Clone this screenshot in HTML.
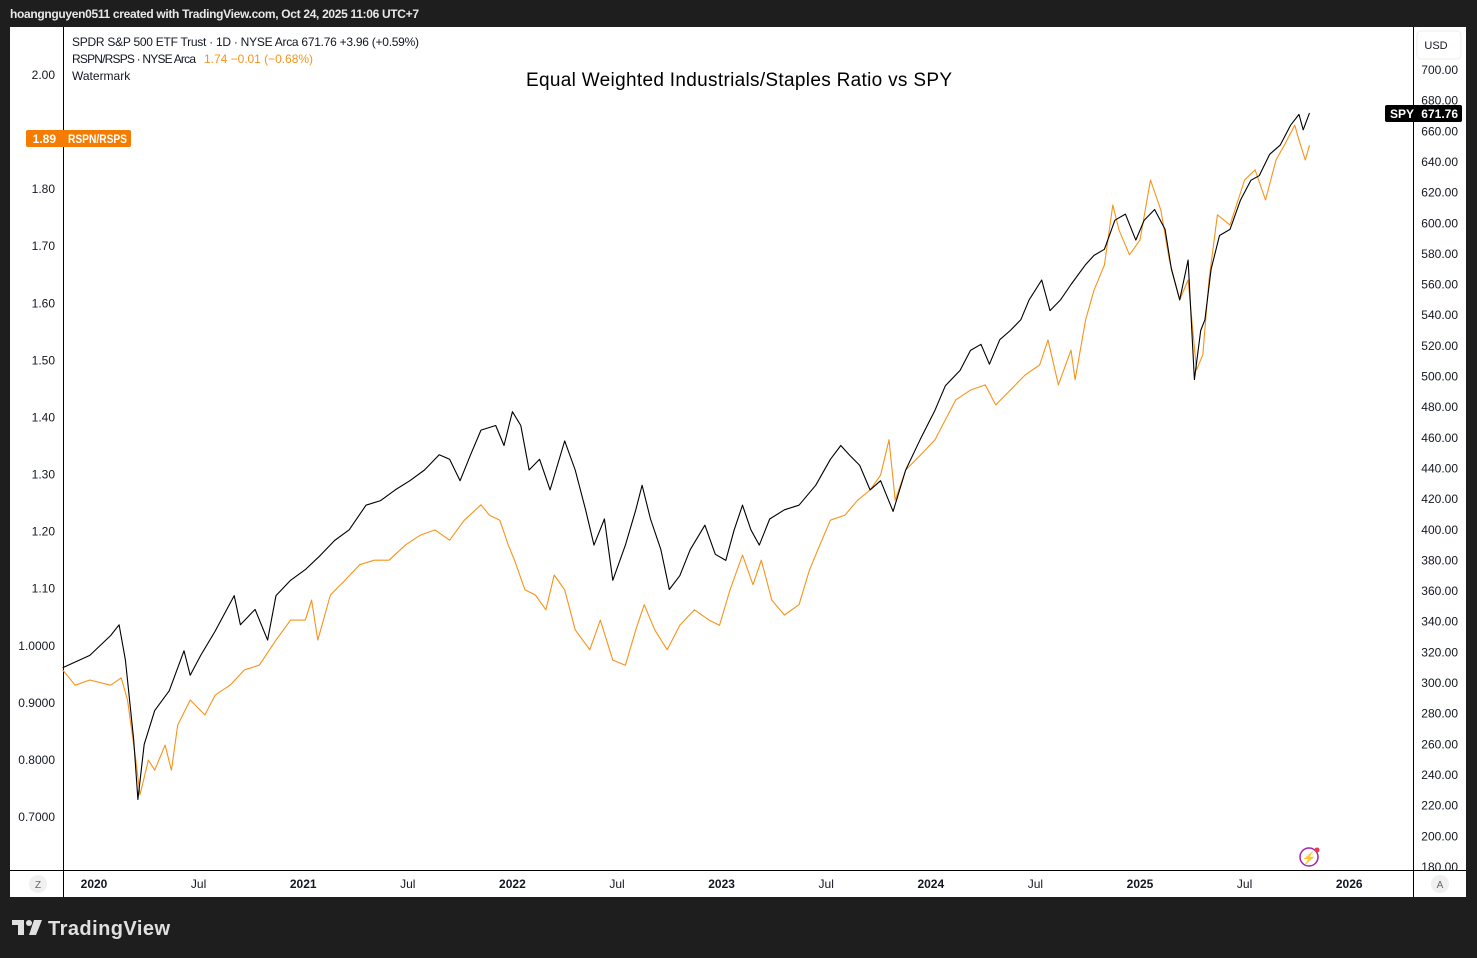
<!DOCTYPE html>
<html><head><meta charset="utf-8"><style>
body{margin:0;background:#1e1e1e;}
svg{display:block;font-family:"Liberation Sans",sans-serif;}
</style></head><body>
<svg id="c" width="1477" height="958">
<rect x="0" y="0" width="1477" height="958" fill="#1e1e1e"/>
<text x="10" y="18" fill="#e8e8e8" font-size="12" font-weight="bold" textLength="409">hoangnguyen0511 created with TradingView.com, Oct 24, 2025 11:06 UTC+7</text>
<rect x="10" y="27" width="1456" height="870" fill="#fff"/>
<line x1="63.5" y1="27" x2="63.5" y2="897" stroke="#000"/>
<line x1="1413.5" y1="27" x2="1413.5" y2="897" stroke="#000"/>
<line x1="10" y1="870.5" x2="1466" y2="870.5" stroke="#000"/>
<g id="left-ticks"></g>
<g id="right-ticks"></g>
<g id="time-ticks"></g>
<g id="series"></g>
<text x="72" y="46" font-size="12" fill="#131722" textLength="347">SPDR S&amp;P 500 ETF Trust · 1D · NYSE Arca  671.76  +3.96 (+0.59%)</text>
<text x="72" y="63" font-size="12" fill="#131722"><tspan textLength="124">RSPN/RSPS · NYSE Arca</tspan><tspan x="204" fill="#f7931a" textLength="109">1.74  −0.01 (−0.68%)</tspan></text>
<text x="72" y="80" font-size="12" fill="#131722">Watermark</text>
<text x="739" y="86" font-size="19" fill="#000" text-anchor="middle" textLength="426">Equal Weighted Industrials/Staples Ratio vs SPY</text>
<rect x="1417" y="31" width="44" height="28" rx="4" fill="#fff" stroke="#eee"/>
<text x="1436" y="49" font-size="11" fill="#131722" text-anchor="middle">USD</text>
<rect x="1385" y="105" width="77" height="17" rx="2" fill="#000"/>
<text x="1390" y="118" font-size="12" fill="#fff" font-weight="bold">SPY</text>
<text x="1458" y="118" font-size="12" fill="#fff" font-weight="bold" text-anchor="end">671.76</text>
<rect x="26" y="130" width="105" height="17" rx="2" fill="#f57c00"/>
<text x="56" y="143" font-size="12" fill="#fff" font-weight="bold" text-anchor="end">1.89</text>
<text x="68" y="143" font-size="12" fill="#fff" font-weight="bold" textLength="59" lengthAdjust="spacingAndGlyphs">RSPN/RSPS</text>
<circle cx="38" cy="884" r="9" fill="#f0f0f0"/>
<text x="38" y="888" font-size="10" fill="#666" text-anchor="middle">Z</text>
<circle cx="1440" cy="884" r="9" fill="#f0f0f0"/>
<text x="1440" y="888" font-size="10" fill="#666" text-anchor="middle">A</text>
<circle cx="1309" cy="857" r="9" fill="none" stroke="#9c27b0" stroke-width="1.5"/>
<text x="1309" y="862" font-size="12" fill="#9c27b0" text-anchor="middle">⚡</text>
<circle cx="1317" cy="850" r="2.5" fill="#f23645"/>
<g>
<rect x="12" y="920" width="12" height="5" fill="#e0e0e0"/>
<rect x="18" y="920" width="6" height="15" fill="#e0e0e0"/>
<circle cx="29" cy="923" r="3" fill="#e0e0e0"/>
<polygon points="34,920 42,920 36,935 29,935" fill="#e0e0e0"/>
</g>
<text x="48" y="935" font-size="20" font-weight="bold" fill="#e0e0e0" textLength="122">TradingView</text>
</svg>
<script>
const ratioTicks=[2.00,1.80,1.70,1.60,1.50,1.40,1.30,1.20,1.10,1.0,0.9,0.8,0.7];
const spyTicks=[700,680,660,640,620,600,580,560,540,520,500,480,460,440,420,400,380,360,340,320,300,280,260,240,220,200,180];
const timeLabels=["2020","Jul","2021","Jul","2022","Jul","2023","Jul","2024","Jul","2025","Jul","2026"];
const timeValues=[2020,2020.5,2021,2021.5,2022,2022.5,2023,2023.5,2024,2024.5,2025,2025.5,2026];
const spyDates=[2019.85,2019.98,2020.08,2020.12,2020.15,2020.19,2020.21,2020.24,2020.29,2020.36,2020.43,2020.46,2020.51,2020.58,2020.67,2020.70,2020.77,2020.83,2020.87,2020.94,2021.01,2021.08,2021.15,2021.22,2021.30,2021.37,2021.44,2021.51,2021.58,2021.65,2021.70,2021.75,2021.80,2021.85,2021.92,2021.96,2022.00,2022.04,2022.08,2022.13,2022.18,2022.25,2022.30,2022.35,2022.39,2022.44,2022.48,2022.54,2022.59,2022.62,2022.66,2022.71,2022.75,2022.80,2022.85,2022.92,2022.97,2023.02,2023.06,2023.10,2023.14,2023.18,2023.23,2023.30,2023.37,2023.45,2023.52,2023.57,2023.61,2023.66,2023.71,2023.76,2023.82,2023.88,2023.95,2024.02,2024.07,2024.14,2024.19,2024.24,2024.28,2024.33,2024.38,2024.43,2024.47,2024.53,2024.57,2024.62,2024.67,2024.74,2024.78,2024.83,2024.88,2024.93,2024.98,2025.02,2025.07,2025.12,2025.15,2025.19,2025.23,2025.26,2025.29,2025.31,2025.34,2025.38,2025.43,2025.48,2025.53,2025.57,2025.62,2025.67,2025.72,2025.76,2025.78,2025.81];
const spyValues=[310,318,331,338,315,263,224,260,282,295,321,305,318,334,357,338,348,328,357,367,374,383,393,400,416,419,426,432,439,449,446,432,449,465,468,455,477,468,439,446,426,458,439,413,390,407,367,390,413,429,407,387,361,370,387,403,384,380,400,416,400,390,407,413,416,429,446,455,449,442,426,432,412,439,459,478,494,504,517,521,508,524,530,537,550,563,543,550,560,573,579,583,602,606,589,602,609,596,570,550,576,498,530,537,570,592,596,615,628,631,645,651,664,671,661,672];
const ratioDates=[2019.85,2019.91,2019.98,2020.08,2020.13,2020.16,2020.20,2020.22,2020.26,2020.29,2020.34,2020.37,2020.40,2020.46,2020.53,2020.58,2020.65,2020.72,2020.79,2020.87,2020.94,2021.01,2021.04,2021.07,2021.13,2021.20,2021.27,2021.34,2021.41,2021.49,2021.56,2021.63,2021.70,2021.77,2021.85,2021.89,2021.94,2021.98,2022.01,2022.06,2022.11,2022.16,2022.20,2022.25,2022.30,2022.37,2022.42,2022.48,2022.54,2022.59,2022.63,2022.68,2022.74,2022.80,2022.87,2022.94,2022.99,2023.04,2023.10,2023.15,2023.19,2023.24,2023.30,2023.37,2023.42,2023.47,2023.52,2023.59,2023.65,2023.71,2023.76,2023.80,2023.83,2023.88,2023.95,2024.02,2024.07,2024.12,2024.19,2024.26,2024.31,2024.38,2024.45,2024.52,2024.56,2024.61,2024.67,2024.69,2024.74,2024.78,2024.83,2024.87,2024.90,2024.95,2025.00,2025.05,2025.10,2025.14,2025.19,2025.23,2025.27,2025.30,2025.33,2025.37,2025.43,2025.50,2025.55,2025.60,2025.65,2025.69,2025.74,2025.76,2025.79,2025.81];
const ratioValues=[0.958,0.931,0.940,0.931,0.944,0.905,0.800,0.739,0.800,0.782,0.826,0.782,0.861,0.905,0.879,0.914,0.931,0.958,0.966,1.010,1.045,1.045,1.080,1.010,1.089,1.115,1.142,1.150,1.150,1.177,1.194,1.203,1.185,1.220,1.247,1.229,1.220,1.177,1.150,1.098,1.089,1.063,1.124,1.098,1.028,0.993,1.045,0.975,0.966,1.028,1.072,1.028,0.993,1.036,1.063,1.045,1.036,1.098,1.159,1.107,1.150,1.080,1.054,1.072,1.133,1.177,1.220,1.229,1.255,1.273,1.299,1.361,1.255,1.308,1.334,1.361,1.396,1.431,1.448,1.457,1.422,1.448,1.474,1.492,1.536,1.457,1.518,1.466,1.571,1.623,1.667,1.772,1.728,1.685,1.711,1.816,1.763,1.676,1.606,1.641,1.483,1.510,1.641,1.755,1.737,1.816,1.834,1.781,1.851,1.877,1.912,1.886,1.851,1.877];

const NS="http://www.w3.org/2000/svg";
const xScale=t=>94+(t-2020)*209.2;
const yRatio=v=>75+(2.0-v)*570.8;
const ySpy=v=>70+(700-v)*1.5325;
function mk(tag,attrs,parent,txt){const e=document.createElementNS(NS,tag);for(const k in attrs)e.setAttribute(k,attrs[k]);if(txt!==undefined)e.textContent=txt;parent.appendChild(e);return e;}
const lt=document.getElementById('left-ticks');
ratioTicks.forEach(v=>{
  const t=mk('text',{x:55,y:yRatio(v)+4,'font-size':12,fill:'#131722','text-anchor':'end'},lt,v>=1.1||v===2?v.toFixed(2):v.toFixed(4));
  
  
});
const rt=document.getElementById('right-ticks');
spyTicks.forEach(v=>{
  const t=mk('text',{x:1458,y:ySpy(v)+4,'font-size':12,fill:'#131722','text-anchor':'end'},rt,v.toFixed(2));
  
  
});
const tt=document.getElementById('time-ticks');
timeLabels.forEach((l,i)=>{
  const t=mk('text',{x:xScale(timeValues[i]),y:888,'font-size':12,fill:'#131722','text-anchor':'middle','font-weight':l==='Jul'?'normal':'bold'},tt,l);
  
  
});
const sg=document.getElementById('series');
const rp=mk('polyline',{points:ratioDates.map((d,i)=>xScale(d).toFixed(1)+','+yRatio(ratioValues[i]).toFixed(1)).join(' '),fill:'none',stroke:'#f7931a','stroke-width':1.1,'stroke-linejoin':'round'},sg);


const sp=mk('polyline',{points:spyDates.map((d,i)=>xScale(d).toFixed(1)+','+ySpy(spyValues[i]).toFixed(1)).join(' '),fill:'none',stroke:'#000','stroke-width':1.1,'stroke-linejoin':'round'},sg);


</script>
</body></html>
